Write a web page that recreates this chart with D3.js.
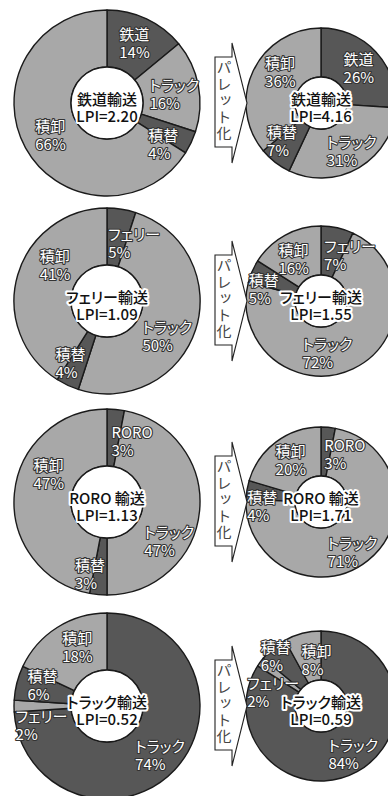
<!DOCTYPE html>
<html>
<head>
<meta charset="utf-8">
<script src="https://cdn.jsdelivr.net/npm/d3@7"></script>
<style>
  html, body { margin: 0; padding: 0; background: #fff; }
  svg { display: block; }
  text.lab, text.ctr { font-feature-settings: "palt"; }
  text.vert { writing-mode: vertical-rl; text-orientation: upright; text-rendering: geometricPrecision; }
</style>
</head>
<body>
<script>
// ---------- data ----------
const modes = ["鉄道輸送", "フェリー輸送", "RORO 輸送", "トラック輸送"];
const sliceLabels = [
  ["鉄道", "トラック", "積替", "積卸"],
  ["フェリー", "トラック", "積替", "積卸"],
  ["RORO", "トラック", "積替", "積卸"],
  ["トラック", "フェリー", "積替", "積卸"]
];
const beforeValues = [
  [14, 16, 4, 66],
  [5, 50, 4, 41],
  [3, 47, 3, 47],
  [74, 2, 6, 18]
];
const afterValues = [
  [26, 31, 7, 36],
  [7, 72, 5, 16],
  [3, 71, 4, 20],
  [84, 2, 6, 8]
];
const lpiBefore = ["2.20", "1.09", "1.13", "0.52"];
const lpiAfter = ["4.16", "1.55", "1.71", "0.59"];
const arrowText = "パレット化";

// ---------- layout / style (not data) ----------
const W = 388, H = 796;
const rowY = [103, 301, 502, 706];
const leftGeom = { cx: 107, R: 93, r: 36 };
const rightGeom = { cx: 321, R: 75, r: 26 };
// label nudges from the arc centroid, [dx, dy]
const nudgeBefore = [
  [[0, -2], [4, 3], [-2, 13], [0, 0]],
  [[17, 5], [-1, 15], [-9, 3], [10, -19]],
  [[19, 3], [-2, 32], [-11, 7], [6, -22]],
  [[6, 4], [-1, 18], [-2, -5], [5, -5]]
];
const nudgeAfter = [
  [[1, -1], [5, 4], [-8, -2], [5, -10]],
  [[18, 3], [-15, 6], [-11, 8], [-3, 2]],
  [[19, 2], [0, 10], [-9, 12], [0, -2]],
  [[8, 3], [-7, 15], [-13, -12], [8, 2]]
];
const DARK = "#575757", LIGHT = "#a8a8a8", LINE = "#1a1a1a";
const FONT = "'Noto Sans CJK JP', 'Noto Sans', sans-serif";

const svg = d3.select("body").append("svg")
  .attr("width", W).attr("height", H)
  .attr("viewBox", `0 0 ${W} ${H}`);

const pie = d3.pie().sort(null).value(d => d);

function donut(g, geom, cy, values, labels, title, lpi, nudges) {
  const arc = d3.arc().innerRadius(geom.r).outerRadius(geom.R);
  const grp = g.append("g").attr("transform", `translate(${geom.cx},${cy})`);
  const arcs = pie(values);

  grp.selectAll("path.slice").data(arcs).join("path")
    .attr("class", "slice")
    .attr("d", arc)
    .attr("fill", (d, i) => i % 2 === 0 ? DARK : LIGHT)
    .attr("stroke", LINE)
    .attr("stroke-width", 1.4)
    .attr("stroke-linejoin", "round");

  grp.append("circle").attr("r", geom.r).attr("fill", "#fff")
    .attr("stroke", LINE).attr("stroke-width", 1.4);

  // slice labels (two lines, left aligned as a block)
  arcs.forEach((d, i) => {
    const c = arc.centroid(d);
    const t = grp.append("text")
      .attr("class", "lab")
      .attr("transform", `translate(${c[0] + nudges[i][0]},${c[1] + nudges[i][1]})`)
      .attr("text-anchor", "start")
      .attr("font-family", FONT)
      .attr("font-size", 15)
      .attr("fill", "#fff")
      .attr("stroke", "#333")
      .attr("stroke-width", 2.2)
      .attr("stroke-linejoin", "round")
      .attr("paint-order", "stroke");
    const a = t.append("tspan").attr("y", -9).attr("dominant-baseline", "central").text(labels[i]);
    const b = t.append("tspan").attr("y", 9).attr("dominant-baseline", "central").text(d.data + "%");
    const w = Math.max(a.node().getComputedTextLength(), b.node().getComputedTextLength());
    a.attr("x", -w / 2);
    b.attr("x", -w / 2);
  });

  const ct = grp.append("text")
    .attr("class", "ctr")
    .attr("text-anchor", "middle")
    .attr("font-family", FONT)
    .attr("font-size", 15)
    .attr("font-weight", 500)
    .attr("fill", "#111")
    .attr("stroke", "#fff")
    .attr("stroke-width", 4)
    .attr("stroke-linejoin", "round")
    .attr("paint-order", "stroke");
  ct.append("tspan").attr("x", 0).attr("y", -5).attr("dominant-baseline", "central").text(title);
  ct.append("tspan").attr("x", 0).attr("y", 12).attr("dominant-baseline", "central").text("LPI=" + lpi);
}

function arrow(g, cy) {
  const x0 = 215, x1 = 232, tip = 247;
  const p = d3.path();
  p.moveTo(x0, cy - 46);
  p.lineTo(x1, cy - 46);
  p.lineTo(x1, cy - 60);
  p.lineTo(tip, cy);
  p.lineTo(x1, cy + 60);
  p.lineTo(x1, cy + 44);
  p.lineTo(x0, cy + 44);
  p.closePath();
  g.append("path").attr("d", p.toString())
    .attr("fill", "#fff").attr("stroke", "#222").attr("stroke-width", 1.1)
    .attr("stroke-linejoin", "miter");
  g.append("text")
    .attr("class", "vert")
    .attr("x", (x0 + x1) / 2 + 0.5)
    .attr("y", cy - 1.5)
    .attr("text-anchor", "middle")
    .attr("font-family", FONT)
    .attr("font-size", 15)
    .attr("letter-spacing", 1.5)
    .attr("fill", "#444")
    .text(arrowText);
}

modes.forEach((m, i) => {
  const cy = rowY[i];
  donut(svg, leftGeom, cy, beforeValues[i], sliceLabels[i], m, lpiBefore[i], nudgeBefore[i]);
  donut(svg, rightGeom, cy, afterValues[i], sliceLabels[i], m, lpiAfter[i], nudgeAfter[i]);
  arrow(svg, cy);
});
</script>
</body>
</html>
